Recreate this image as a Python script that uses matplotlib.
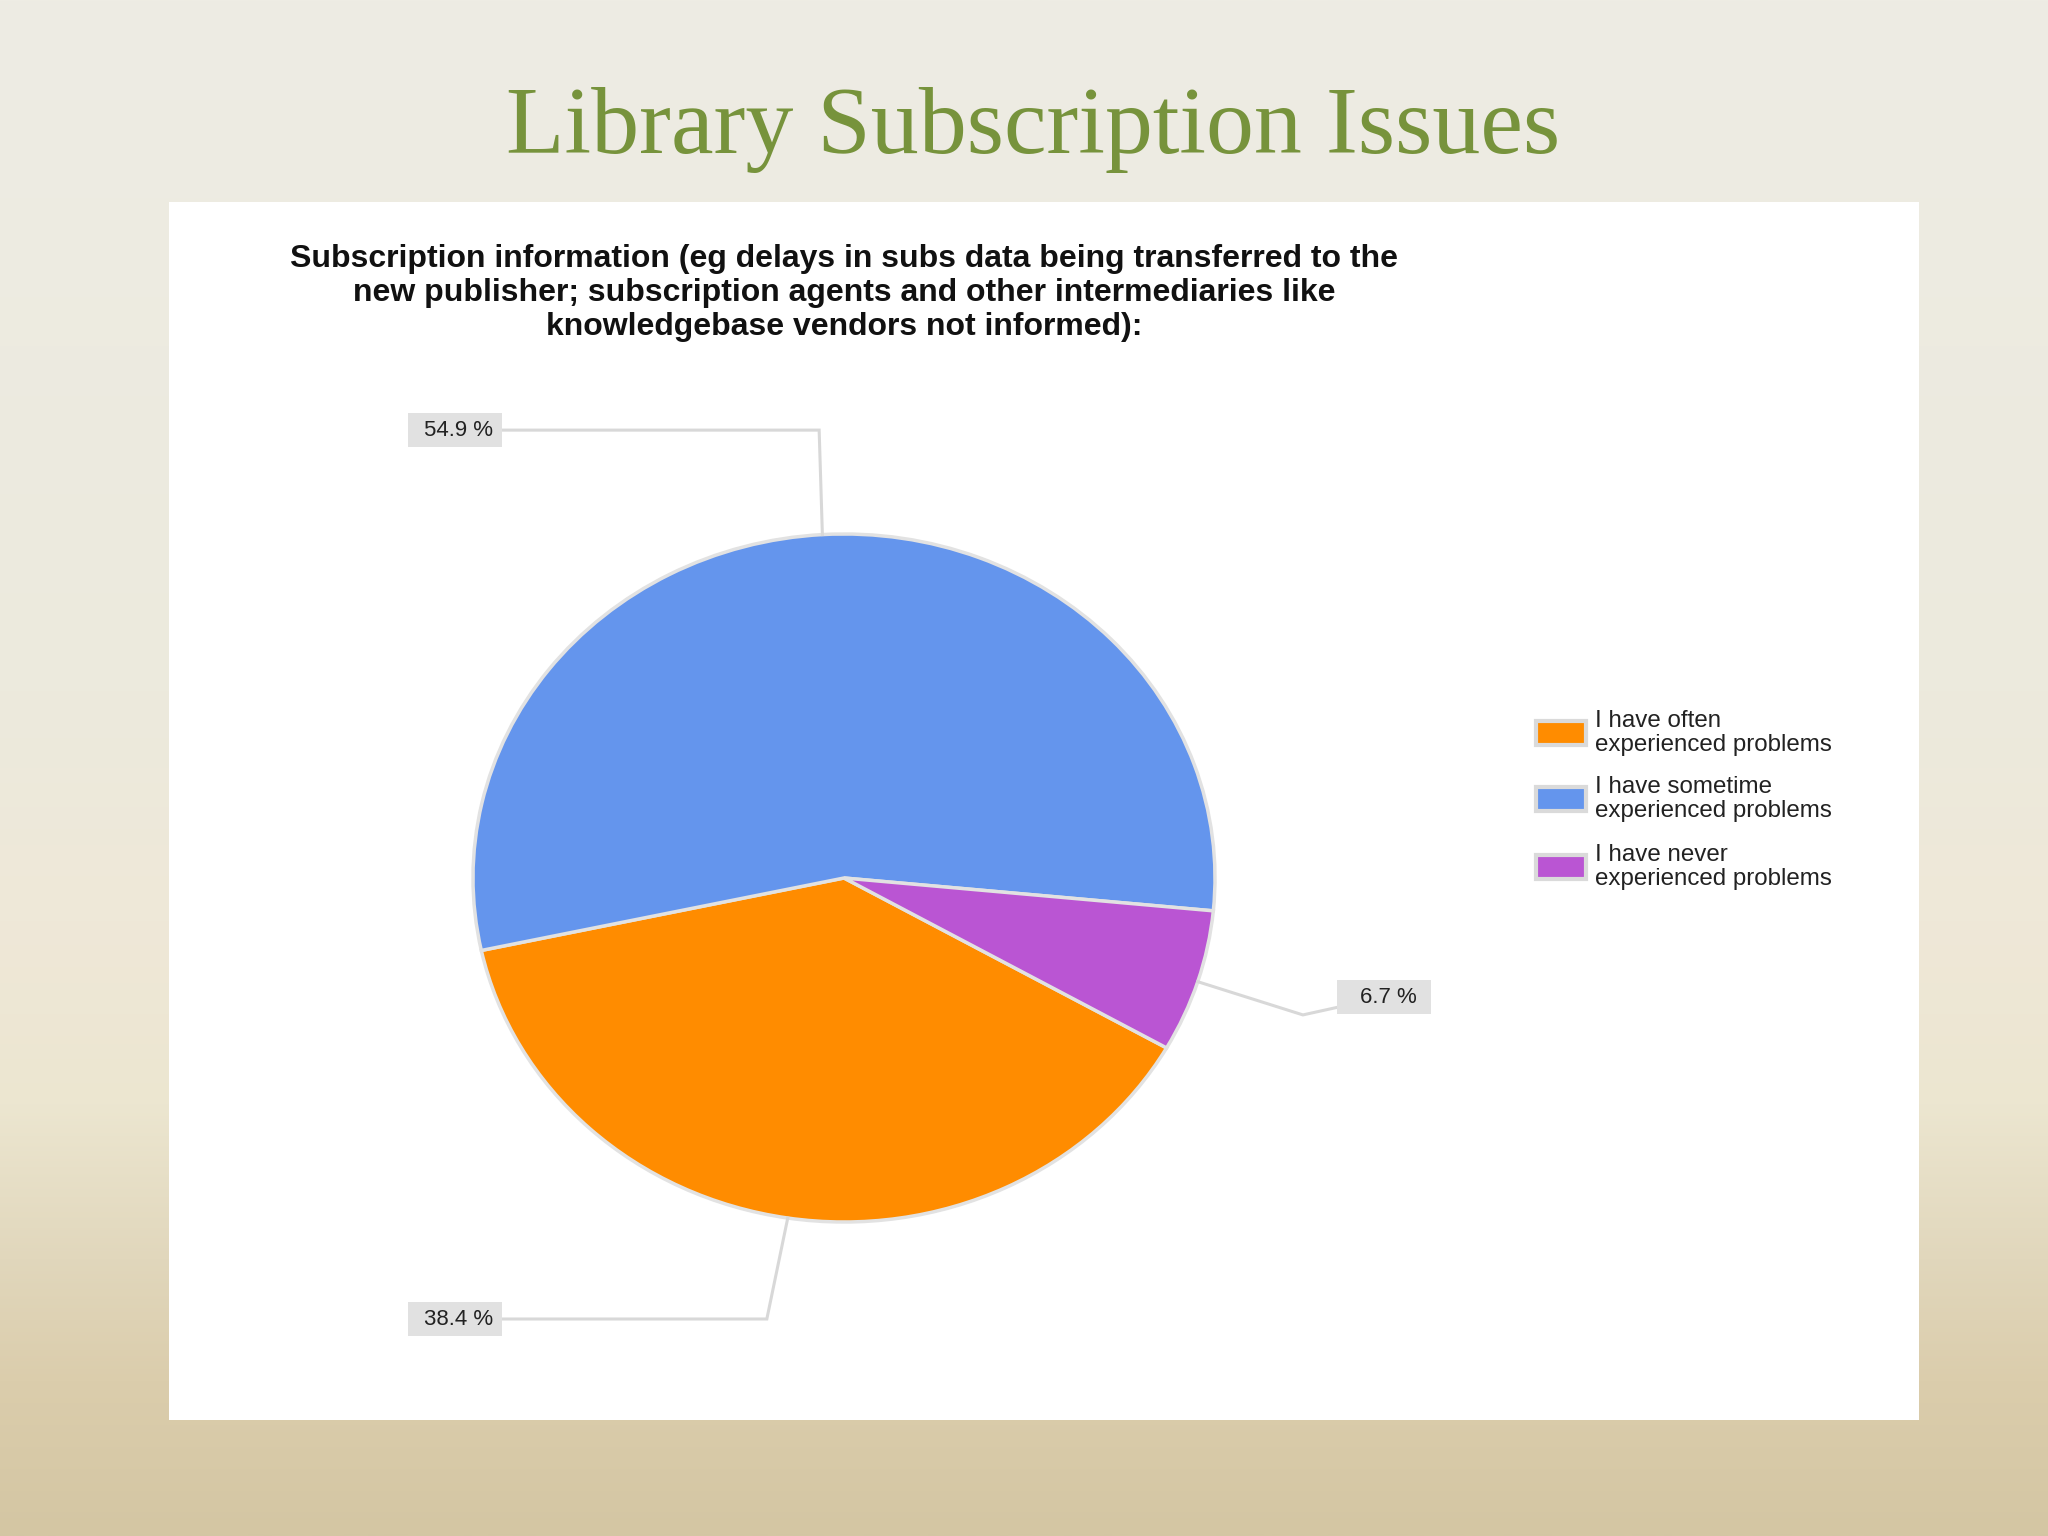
"""
plot.py

Slide-style pie chart: library subscription issues survey answers.
Saves out.png (2048x1536).
"""

import numpy as np
import matplotlib.pyplot as plt
from matplotlib.patches import Rectangle

# data
categories = [
    "I have often\nexperienced problems",
    "I have sometime\nexperienced problems",
    "I have never\nexperienced problems",
]
shares = [38.4, 54.9, 6.7]
pct_labels = ["38.4 %", "54.9 %", "6.7 %"]
colors = ["#ff8c00", "#6495ed", "#ba55d3"]

slide_title = "Library Subscription Issues"
chart_title = [
    "Subscription information (eg delays in subs data being transferred to the",
    "new publisher; subscription agents and other intermediaries like",
    "knowledgebase vendors not informed):",
]

W, H = 2048, 1536


def main():
    fig = plt.figure(figsize=(W / 100, H / 100), dpi=100)

    # background axes in pixel coords (y down)
    bg = fig.add_axes([0, 0, 1, 1], zorder=0)
    bg.set_xlim(0, W)
    bg.set_ylim(H, 0)
    bg.axis("off")

    stops = [0.0, 0.45, 0.6, 0.72, 0.82, 0.9, 1.0]
    rgb = np.array([(238, 236, 228), (236, 234, 221), (239, 232, 216),
                    (236, 230, 208), (225, 215, 188), (219, 205, 172),
                    (212, 198, 163)]) / 255.0
    t = np.linspace(0, 1, 512)
    grad = np.stack([np.interp(t, stops, rgb[:, c]) for c in range(3)], axis=1)
    bg.imshow(grad[:, None, :], extent=(0, W, H, 0), aspect="auto", zorder=0)

    # white chart panel
    bg.add_patch(Rectangle((169, 202), 1750, 1218, fc="white", ec="none", zorder=1))

    # slide title
    bg.text(1033, 153, slide_title, ha="center", va="baseline",
            family="Liberation Serif", fontsize=69, color="#77933c", zorder=2)

    # chart title
    for line, yb in zip(chart_title, [267, 301, 335]):
        bg.text(844, yb, line, ha="center", va="baseline",
                family="Liberation Sans", fontweight="bold", fontsize=23,
                color="#111111", zorder=2)

    # legend
    for i, (lab, col) in enumerate(zip(categories, colors)):
        yc = [733, 799, 867][i]
        bg.add_patch(Rectangle((1536, yc - 12), 50, 24, fc=col, ec="#dadada",
                               lw=3, zorder=2))
        bg.text(1595, yc, lab, ha="left", va="center", linespacing=1.12,
                family="Liberation Sans", fontsize=17.4, color="#222222", zorder=2)

    # pie axes (slightly squashed ellipse like the source)
    ax = fig.add_axes([250.4 / W, 107.6 / H, 1187.2 / W, 1100.8 / H], zorder=1)
    wedges, _ = ax.pie(shares, colors=colors, startangle=-29.6, counterclock=False,
                       wedgeprops=dict(edgecolor="#e2e2e2", linewidth=2.5))
    ax.set_aspect("auto")
    ax.set_xlim(-1.6, 1.6)
    ax.set_ylim(-1.6, 1.6)
    ax.axis("off")
    ax.patch.set_alpha(0)

    # outside labels with elbow leader lines
    label_xy = [(-1.049, -1.282), (-1.049, 1.302), (1.456, -0.346)]
    elbows = [(-0.208, -1.282), (-0.067, 1.302), (1.237, -0.398)]
    for w, txt, (lx, ly), (ex, ey) in zip(wedges, pct_labels, label_xy, elbows):
        mid = np.deg2rad((w.theta1 + w.theta2) / 2)
        px, py = np.cos(mid), np.sin(mid)
        ax.plot([px, ex, lx], [py, ey, ly], color="#d8d8d8", lw=2.2,
                clip_on=False, zorder=3, solid_joinstyle="miter")
        bw, bh = 94 / 371, 34 / 344
        ax.add_patch(Rectangle((lx - bw / 2, ly - bh / 2), bw, bh, fc="#e1e1e1",
                               ec="none", clip_on=False, zorder=4))
        ax.text(lx + 0.01, ly, txt, ha="center", va="center",
                family="Liberation Sans", fontsize=16, color="#222222", zorder=5)

    fig.savefig("out.png", dpi=100)
    plt.close(fig)


if __name__ == "__main__":
    main()
